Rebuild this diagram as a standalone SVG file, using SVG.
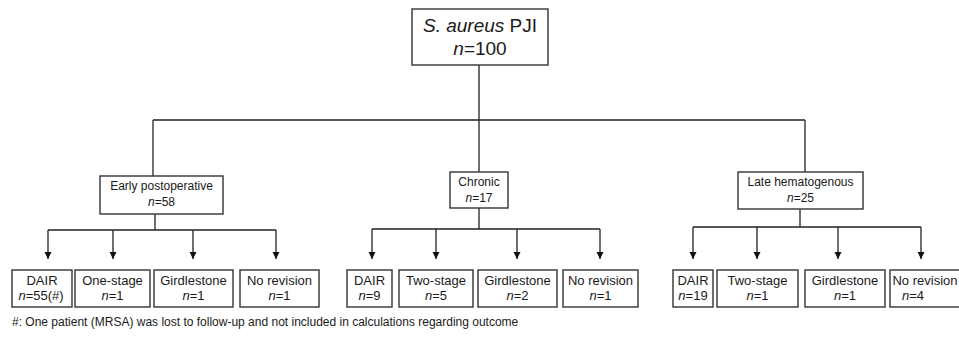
<svg xmlns="http://www.w3.org/2000/svg" width="959" height="348" viewBox="0 0 959 348">
<defs>
<style>
.bx{fill:#fff;stroke:#333;stroke-width:1.4}
.ln{fill:none;stroke:#222;stroke-width:1.3}
.ar{fill:none;stroke:#222;stroke-width:1.3;marker-end:url(#ah)}
text{font-family:"Liberation Sans",Arial,sans-serif;fill:#1a1a1a;text-anchor:middle}
.t{font-size:19px}
.p{font-size:12px}
.c{font-size:13px}
.f{font-size:12px;text-anchor:start}
</style>
<marker id="ah" markerUnits="userSpaceOnUse" markerWidth="8" markerHeight="8" refX="7" refY="3.5" orient="auto">
<path d="M0,0 L7,3.5 L0,7 z" fill="#111"/>
</marker>
</defs>
<rect width="959" height="348" fill="#fff"/>
<g id="connectors">
<path class="ln" d="M479,65 V120 M153,120 H805"/>
<path class="ar" d="M153,120 V190"/>
<path class="ar" d="M479,120 V190"/>
<path class="ar" d="M805,120 V190"/>
<path class="ln" d="M155,214 V230 M48,230 H276"/>
<path class="ar" d="M48,230 V259"/>
<path class="ar" d="M113,230 V259"/>
<path class="ar" d="M193,230 V259"/>
<path class="ar" d="M276,230 V259"/>
<path class="ln" d="M479,208 V229 M372,229 H600"/>
<path class="ar" d="M372,229 V259"/>
<path class="ar" d="M436,229 V259"/>
<path class="ar" d="M517,229 V259"/>
<path class="ar" d="M600,229 V259"/>
<path class="ln" d="M800,209 V227 M693,227 H921"/>
<path class="ar" d="M693,227 V259"/>
<path class="ar" d="M757,227 V259"/>
<path class="ar" d="M838,227 V259"/>
<path class="ar" d="M921,227 V259"/>
</g>
<g id="root">
<rect class="bx" x="412" y="9" width="136" height="56"/>
<text class="t" x="480" y="32"><tspan font-style="italic">S. aureus</tspan> PJI</text>
<text class="t" x="480" y="55"><tspan font-style="italic">n</tspan>=100</text>
</g>
<g id="early">
<rect class="bx" x="100" y="176" width="123" height="38"/>
<text class="p" x="161.5" y="190">Early postoperative</text>
<text class="p" x="161.5" y="206"><tspan font-style="italic">n</tspan>=58</text>
</g>
<g id="chronic">
<rect class="bx" x="450" y="172" width="58" height="36"/>
<text class="p" x="479" y="186">Chronic</text>
<text class="p" x="479" y="202"><tspan font-style="italic">n</tspan>=17</text>
</g>
<g id="late">
<rect class="bx" x="738" y="172" width="125" height="37"/>
<text class="p" x="800.5" y="186">Late hematogenous</text>
<text class="p" x="800.5" y="202"><tspan font-style="italic">n</tspan>=25</text>
</g>
<g id="early-dair">
<rect class="bx" x="12" y="270" width="60" height="37"/>
<text class="c" x="42" y="285">DAIR</text>
<text class="c" x="41" y="300"><tspan font-style="italic">n</tspan>=55(#)</text>
</g>
<g id="early-onestage">
<rect class="bx" x="75" y="270" width="75" height="37"/>
<text class="c" x="112.5" y="285">One-stage</text>
<text class="c" x="112.5" y="300"><tspan font-style="italic">n</tspan>=1</text>
</g>
<g id="early-girdlestone">
<rect class="bx" x="154" y="270" width="79" height="37"/>
<text class="c" x="193.5" y="285">Girdlestone</text>
<text class="c" x="193.5" y="300"><tspan font-style="italic">n</tspan>=1</text>
</g>
<g id="early-norevision">
<rect class="bx" x="240" y="270" width="79" height="37"/>
<text class="c" x="279.5" y="285">No revision</text>
<text class="c" x="279.5" y="300"><tspan font-style="italic">n</tspan>=1</text>
</g>
<g id="chronic-dair">
<rect class="bx" x="347" y="270" width="45" height="37"/>
<text class="c" x="369.5" y="285">DAIR</text>
<text class="c" x="369.5" y="300"><tspan font-style="italic">n</tspan>=9</text>
</g>
<g id="chronic-twostage">
<rect class="bx" x="399" y="270" width="74" height="37"/>
<text class="c" x="436" y="285">Two-stage</text>
<text class="c" x="436" y="300"><tspan font-style="italic">n</tspan>=5</text>
</g>
<g id="chronic-girdlestone">
<rect class="bx" x="478" y="270" width="79" height="37"/>
<text class="c" x="517.5" y="285">Girdlestone</text>
<text class="c" x="517.5" y="300"><tspan font-style="italic">n</tspan>=2</text>
</g>
<g id="chronic-norevision">
<rect class="bx" x="563" y="270" width="75" height="37"/>
<text class="c" x="600.5" y="285">No revision</text>
<text class="c" x="600.5" y="300"><tspan font-style="italic">n</tspan>=1</text>
</g>
<g id="late-dair">
<rect class="bx" x="673" y="270" width="40" height="37"/>
<text class="c" x="693" y="285">DAIR</text>
<text class="c" x="693" y="300"><tspan font-style="italic">n</tspan>=19</text>
</g>
<g id="late-twostage">
<rect class="bx" x="717" y="270" width="81" height="37"/>
<text class="c" x="757.5" y="285">Two-stage</text>
<text class="c" x="757.5" y="300"><tspan font-style="italic">n</tspan>=1</text>
</g>
<g id="late-girdlestone">
<rect class="bx" x="805" y="270" width="80" height="37"/>
<text class="c" x="845" y="285">Girdlestone</text>
<text class="c" x="845" y="300"><tspan font-style="italic">n</tspan>=1</text>
</g>
<g id="late-norevision">
<rect class="bx" x="890" y="270" width="80" height="37"/>
<text class="c" x="925" y="285">No revision</text>
<text class="c" x="913" y="300"><tspan font-style="italic">n</tspan>=4</text>
</g>
<text class="f" x="12" y="326">#: One patient (MRSA) was lost to follow-up and not included in calculations regarding outcome</text>
</svg>
